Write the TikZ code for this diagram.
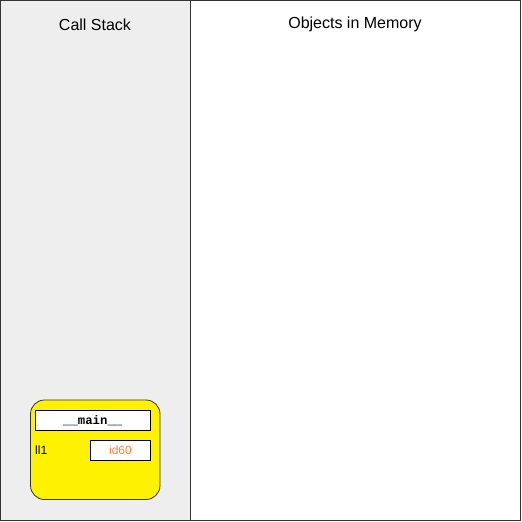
\documentclass[tikz,border=0pt]{standalone}
\usepackage{fontspec}
\setmainfont{Liberation Sans}
\newfontfamily\monobf{Liberation Mono}
\definecolor{panelgray}{HTML}{EEEEEE}
\definecolor{idorange}{HTML}{FF7F3F}
\definecolor{framegray}{HTML}{333333}
\begin{document}
\begin{tikzpicture}[x=1pt,y=-1pt,
  panel/.style={draw=framegray,line width=0.8pt},
  heading/.style={font=\fontsize{16}{18}\selectfont,text=black},
  stackframe/.style={draw=framegray,fill=yellow,rounded corners=14pt,line width=0.8pt},
  namebox/.style={draw=black,fill=white,line width=0.8pt},
  idtext/.style={font=\fontsize{12}{14}\selectfont,text=idorange},
  varlabel/.style={font=\fontsize{12}{14}\selectfont}]
\useasboundingbox (0,0) rectangle (522,522);
\draw[panel,fill=panelgray] (0.5,0.5) rectangle (190,520.5);
\draw[panel,fill=white] (190,0.5) rectangle (520.5,520.5);
\node[heading] (cs) at (95,24.5) {Call Stack};
\node[heading] (om) at (355,24.5) {Objects in Memory};
\draw[stackframe] (30.5,400) rectangle (160,499.5);
\draw[namebox] (35,410.5) rectangle (150.5,430.5);
\node[font=\monobf\bfseries\fontsize{12.3}{14}\selectfont] (main) at (92.75,420.5) {\_\_main\_\_};
\draw[namebox] (90.5,440.5) rectangle (150.5,460.5);
\node[idtext] (id) at (120.5,450.5) {id60};
\node[varlabel,anchor=west,inner sep=0pt] (ll) at (35,450.5) {ll1};
\end{tikzpicture}
\end{document}
